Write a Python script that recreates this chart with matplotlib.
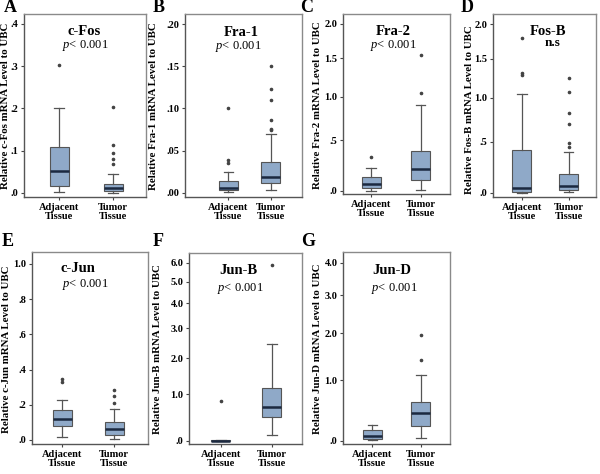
import numpy as np
import matplotlib
matplotlib.use("Agg")
import matplotlib.pyplot as plt

plt.rcParams['font.family'] = ['Liberation Serif', 'DejaVu Serif']
plt.rcParams['mathtext.fontset'] = 'custom'
plt.rcParams['mathtext.rm'] = 'Liberation Serif'
plt.rcParams['mathtext.it'] = 'Liberation Serif:italic'
plt.rcParams['mathtext.bf'] = 'Liberation Serif:bold'

groups = ["Adjacent\nTissue", "Tumor\nTissue"]

# Box statistics per panel: [adjacent, tumor] -> (whislo, q1, med, q3, whishi)
cfos_stats = [(0.001, 0.015, 0.051, 0.109, 0.200), (0.0, 0.004, 0.011, 0.020, 0.044)]
cfos_fliers = [[0.302], [0.067, 0.081, 0.095, 0.112, 0.203]]

fra1_stats = [(0.0004, 0.003, 0.006, 0.0135, 0.025), (0.0027, 0.0115, 0.0185, 0.036, 0.070)]
fra1_fliers = [[0.035, 0.039, 0.100], [0.074, 0.076, 0.086, 0.110, 0.123, 0.150]]

fra2_stats = [(0.0, 0.028, 0.065, 0.131, 0.212), (0.01, 0.097, 0.206, 0.391, 0.90)]
fra2_fliers = [[0.329], [1.05, 1.55]]

fosb_stats = [(0.0, 0.003, 0.040, 0.414, 1.045), (0.003, 0.024, 0.064, 0.171, 0.397)]
fosb_fliers = [[1.289, 1.315, 1.80], [0.449, 0.483, 0.694, 0.815, 1.073, 1.25]]

cjun_stats = [(0.019, 0.079, 0.117, 0.169, 0.225), (0.004, 0.028, 0.062, 0.100, 0.174)]
cjun_fliers = [[0.331, 0.345], [0.21, 0.252, 0.286]]

junb_stats = [(0.0, 0.0, 0.003, 0.012, 0.012), (0.107, 0.471, 0.699, 1.167, 2.45)]
junb_fliers = [[0.838], [5.85]]

jund_stats = [(0.014, 0.029, 0.072, 0.156, 0.242), (0.038, 0.222, 0.432, 0.611, 1.105)]
jund_fliers = [[], [1.415, 1.97]]

names = ["c-Fos", "Fra-1", "Fra-2", "Fos-B", "c-Jun", "Jun-B", "Jun-D"]
letters = ["A", "B", "C", "D", "E", "F", "G"]
pvals = ["p", "p", "p", "n.s", "p", "p", "p"]
ylabels = ["Relative c-Fos mRNA Level to UBC", "Relative Fra-1 mRNA Level to UBC",
           "Relative Fra-2 mRNA Level to UBC", "Relative Fos-B mRNA Level to UBC",
           "Relative c-Jun mRNA Level to UBC", "Relative Jun-B mRNA Level to UBC",
           "Relative Jun-D mRNA Level to UBC"]
ticks = [[0, .1, .2, .3, .4], [0, .05, .10, .15, .20], [0, .5, 1.0, 1.5, 2.0],
         [0, .5, 1.0, 1.5, 2.0], [0, .2, .4, .6, .8, 1.0], [0, 1, 2, 3, 4, 5, 6],
         [0, 1, 2, 3, 4]]
ticklabels = [[".0", ".1", ".2", ".3", ".4"], [".00", ".05", ".10", ".15", ".20"],
              [".0", ".5", "1.0", "1.5", "2.0"], [".0", ".5", "1.0", "1.5", "2.0"],
              [".0", ".2", ".4", ".6", ".8", "1.0"],
              [".0", "1.0", "2.0", "3.0", "4.0", "5.0", "6.0"],
              [".0", "1.0", "2.0", "3.0", "4.0"]]
all_stats = [cfos_stats, fra1_stats, fra2_stats, fosb_stats, cjun_stats, junb_stats, jund_stats]
all_fliers = [cfos_fliers, fra1_fliers, fra2_fliers, fosb_fliers, cjun_fliers, junb_fliers, jund_fliers]

# ---- layout (pixels) ----
W, H = 600, 474
axes_px = [(24, 146, 14, 197), (185, 302, 14, 197), (343, 450, 14, 194), (493, 596, 14, 197),
           (32, 148, 252, 444), (189, 302, 253, 444), (343, 450, 252, 444)]
centers_frac = [(.287, .73), (.37, .735), (.262, .726), (.28, .735), (.26, .71), (.283, .734), (.274, .727)]
ylims = [(-0.0102, 0.4237), (-0.0051, 0.2119), (-0.030, 2.155), (-0.039, 2.155),
         (-0.023, 1.068), (-0.055, 6.55), (-0.043, 4.365)]
logscale = [False, False, True, True, False, True, True]
title_px = [(84, 31.5), (241, 32), (393, 31.7), (548, 31.7), (78, 269), (238, 270), (392, 270)]
sub_px = [(85, 45.5), (238, 46), (393, 45.5), (553, 43.5), (85, 285), (240, 289), (394, 289)]
ylab_px = [(6, 106), (154, 106), (318, 105), (469, 110), (7, 349), (157, 349), (317.5, 349)]
letter_px = [(10, 7), (159, 7), (307, 7), (467, 7), (8, 242), (158, 242), (308, 241)]

BOX = '#8fa9c8'
EDGE = '#555555'
FRAME = '#8a8a8a'
MED = '#1b2940'

fig = plt.figure(figsize=(6, 4.74), dpi=100)

def fx(x):
    return x / W

def fy(y):
    return 1 - y / H

for i in range(7):
    l, r, t, b = axes_px[i]
    ax = fig.add_axes([l / W, 1 - b / H, (r - l) / W, (b - t) / H])
    if logscale[i]:
        ax.set_yscale('function', functions=(lambda v: np.log(v + 3.0), lambda v: np.exp(v) - 3.0))
    p1, p2 = centers_frac[i]
    span = p2 - p1
    a = 1 - p1 / span
    bnd = a + 1 / span
    ax.set_xlim(a, bnd)
    ax.set_ylim(*ylims[i])
    bw = 19.0 / (r - l) * (bnd - a)
    stats = []
    for j in range(2):
        lo, q1, med, q3, hi = all_stats[i][j]
        stats.append(dict(whislo=lo, q1=q1, med=med, q3=q3, whishi=hi,
                          fliers=all_fliers[i][j], label=groups[j]))
    ax.bxp(stats, positions=[1, 2], widths=bw, patch_artist=True,
           capwidths=bw * 0.5, showfliers=True,
           boxprops=dict(facecolor=BOX, edgecolor=EDGE, linewidth=0.8),
           whiskerprops=dict(color=EDGE, linewidth=0.9),
           capprops=dict(color=EDGE, linewidth=0.9),
           medianprops=dict(color=MED, linewidth=1.8),
           flierprops=dict(marker='o', markersize=1.6, markerfacecolor='#444444',
                           markeredgecolor='#444444', linestyle='none'))
    ax.set_yticks(ticks[i])
    ax.set_yticklabels(ticklabels[i], fontsize=7.5, fontweight='bold')
    ax.set_xticks([1, 2])
    ax.set_xticklabels(groups, fontsize=7.5, fontweight='bold', linespacing=1.1)
    ax.minorticks_off()
    ax.tick_params(axis='both', length=2.5, width=0.8, color='#444444', pad=1.5)
    for s in ax.spines.values():
        s.set_color(FRAME)
        s.set_linewidth(1.0)
    ax.spines['left'].set_color('#555555')
    ax.spines['bottom'].set_color('#555555')

    fig.text(fx(title_px[i][0]), fy(title_px[i][1]), names[i], fontsize=10.5,
             fontweight='bold', ha='center', va='center')
    if pvals[i] == 'p':
        fig.text(fx(sub_px[i][0]), fy(sub_px[i][1]), r'$\it{p}$' + '< 0.001', fontsize=9,
                 ha='center', va='center')
    else:
        fig.text(fx(sub_px[i][0]), fy(sub_px[i][1]), 'n.s', fontsize=9.5,
                 fontweight='bold', ha='center', va='center')
    fig.text(fx(ylab_px[i][0]), fy(ylab_px[i][1]), ylabels[i], fontsize=7.8,
             fontweight='bold', rotation=90, ha='center', va='center')
    fig.text(fx(letter_px[i][0]), fy(letter_px[i][1]), letters[i], fontsize=13,
             fontweight='bold', ha='center', va='center')

fig.savefig('out.png', dpi=100)
